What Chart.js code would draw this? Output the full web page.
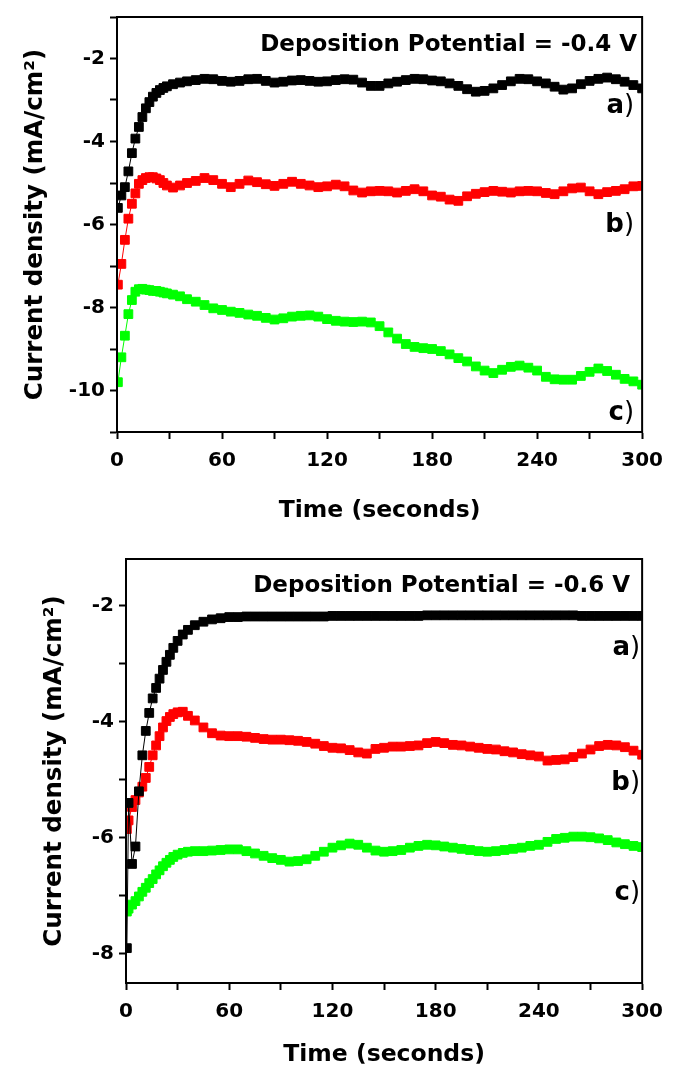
<!DOCTYPE html>
<html>
<head>
<meta charset="utf-8">
<script src="https://cdn.jsdelivr.net/npm/chart.js@4.4.1/dist/chart.umd.min.js"></script>
<style>
  html, body { margin: 0; padding: 0; background: #fff; }
  .painel { position: absolute; left: 0; width: 673px; height: 540px; }
</style>
</head>
<body>
<div class="painel" style="top:0"><canvas id="graficoTopo" width="673" height="540"></canvas></div>
<div class="painel" style="top:540px"><canvas id="graficoBaixo" width="673" height="540"></canvas></div>
<script>
const tempoTopo = [0.5, 2.5, 4.5, 6.5, 8.5, 10.5, 12.5, 14.5, 16.5, 18.5, 20.5, 22.5, 24.5, 26.5, 28.5,
  32, 36, 40, 45, 50, 55, 60, 65, 70, 75, 80, 85, 90, 95, 100, 105, 110, 115, 120, 125, 130, 135, 140,
  145, 150, 155, 160, 165, 170, 175, 180, 185, 190, 195, 200, 205, 210, 215, 220, 225, 230, 235, 240,
  245, 250, 255, 260, 265, 270, 275, 280, 285, 290, 295, 300];

const topoA = [-5.6, -5.3, -5.1, -4.72, -4.28, -3.93, -3.65, -3.41, -3.2, -3.05, -2.92, -2.83, -2.76, -2.71, -2.67,
  -2.62, -2.58, -2.55,
  -2.52, -2.49, -2.5, -2.54, -2.56, -2.54, -2.5, -2.49, -2.54, -2.58,
  -2.56, -2.53, -2.52, -2.54, -2.56, -2.55, -2.52, -2.5, -2.51, -2.58,
  -2.66, -2.66, -2.6, -2.56, -2.52, -2.49, -2.5, -2.53, -2.55, -2.6,
  -2.66, -2.74, -2.8, -2.78, -2.72, -2.64, -2.55, -2.49, -2.5, -2.55,
  -2.6, -2.68, -2.75, -2.72, -2.62, -2.54, -2.49, -2.46, -2.5, -2.56,
  -2.64, -2.72];

const topoB = [-7.45, -6.95, -6.37, -5.86, -5.5, -5.25, -5.02, -4.93, -4.88, -4.86, -4.86, -4.89, -4.93, -5.0, -5.06,
  -5.11, -5.06, -5.0,
  -4.95, -4.88, -4.93, -5.02, -5.1, -5.02, -4.94, -4.98, -5.03, -5.07,
  -5.02, -4.97, -5.02, -5.06, -5.1, -5.08, -5.04, -5.08, -5.18, -5.23,
  -5.2, -5.19, -5.2, -5.23, -5.19, -5.15, -5.2, -5.3, -5.33, -5.4,
  -5.43, -5.32, -5.26, -5.22, -5.19, -5.21, -5.23, -5.2, -5.19, -5.2,
  -5.24, -5.27, -5.2, -5.13, -5.11, -5.2, -5.27, -5.22, -5.19, -5.15,
  -5.08, -5.07];

const topoC = [-9.8, -9.2, -8.68, -8.16, -7.82, -7.62, -7.56, -7.55, -7.57, -7.58, -7.6, -7.6, -7.62, -7.64, -7.66,
  -7.69, -7.73, -7.8,
  -7.86, -7.94, -8.02, -8.06, -8.1, -8.13, -8.17, -8.2, -8.25, -8.29,
  -8.26, -8.22, -8.2, -8.19, -8.22, -8.28, -8.32, -8.34, -8.35, -8.34,
  -8.36, -8.45, -8.6, -8.75, -8.88, -8.95, -8.98, -9.0, -9.05, -9.13,
  -9.22, -9.3, -9.42, -9.52, -9.58, -9.5, -9.43, -9.4, -9.45, -9.52,
  -9.67, -9.73, -9.74, -9.74, -9.65, -9.55, -9.47, -9.53, -9.62, -9.72,
  -9.78, -9.86];

// tempos (s) do gráfico de baixo, -0.6 V
const tempoBaixo = [0.5, 1.5, 3.5, 5.5, 7.5, 9.5, 11.5, 13.5, 15.5, 17.5, 19.5, 21.5, 23.5, 25.5, 27.5,
  30, 33, 36, 40, 45, 50, 55, 60, 65, 70, 75, 80, 85, 90, 95, 100, 105, 110, 115, 120, 125, 130, 135, 140,
  145, 150, 155, 160, 165, 170, 175, 180, 185, 190, 195, 200, 205, 210, 215, 220, 225, 230, 235, 240,
  245, 250, 255, 260, 265, 270, 275, 280, 285, 290, 295, 300];

const baixoA = [-7.9, -5.4, -6.45, -6.15, -5.2, -4.58, -4.16, -3.85, -3.6, -3.42, -3.26, -3.11, -2.97, -2.85, -2.73,
  -2.61, -2.5, -2.42, -2.34,
  -2.28, -2.24, -2.22, -2.2, -2.2, -2.19, -2.19, -2.19, -2.19, -2.19,
  -2.19, -2.19, -2.19, -2.19, -2.19, -2.18, -2.18, -2.18, -2.18, -2.18,
  -2.18, -2.18, -2.18, -2.18, -2.18, -2.18, -2.17, -2.17, -2.17, -2.17,
  -2.17, -2.17, -2.17, -2.17, -2.17, -2.17, -2.17, -2.17, -2.17, -2.17,
  -2.17, -2.17, -2.17, -2.17, -2.18, -2.18, -2.18, -2.18, -2.18, -2.18,
  -2.18, -2.18];

const baixoB = [-5.85, -5.7, -5.47, -5.35, -5.22, -5.12, -4.97, -4.78, -4.58, -4.41, -4.25, -4.1, -3.99, -3.92, -3.87,
  -3.84, -3.83, -3.9, -3.98,
  -4.1, -4.2, -4.24, -4.25, -4.25, -4.26, -4.28, -4.3, -4.31, -4.31,
  -4.32, -4.33, -4.35, -4.38, -4.42, -4.45, -4.46, -4.49, -4.53, -4.55,
  -4.47, -4.45, -4.43, -4.43, -4.42, -4.41, -4.37, -4.35, -4.37, -4.4,
  -4.41, -4.43, -4.45, -4.47, -4.48, -4.51, -4.53, -4.56, -4.58, -4.6,
  -4.67, -4.66, -4.65, -4.61, -4.55, -4.48, -4.42, -4.4, -4.41, -4.44,
  -4.5, -4.57];

const baixoC = [-7.27, -7.22, -7.15, -7.09, -7.01, -6.93, -6.86, -6.78, -6.71, -6.63, -6.56, -6.49, -6.43, -6.38, -6.33,
  -6.29, -6.26, -6.24, -6.23,
  -6.23, -6.22, -6.21, -6.2, -6.2, -6.23, -6.27, -6.31, -6.35, -6.38,
  -6.41, -6.4, -6.37, -6.31, -6.24, -6.17, -6.13, -6.1, -6.12, -6.17,
  -6.22, -6.24, -6.23, -6.21, -6.17, -6.14, -6.12, -6.13, -6.15, -6.17,
  -6.19, -6.21, -6.23, -6.24, -6.23, -6.21, -6.19, -6.17, -6.14, -6.12,
  -6.07, -6.02, -6.0, -5.98, -5.98, -5.99, -6.01, -6.04, -6.08, -6.11,
  -6.14, -6.16];

const nomesCurvas = ["a", "b", "c"];
const coresCurvas = ["#000000", "#ff0000", "#00ff00"];

const fonte = "DejaVu Sans";

// moldura fechada em volta da área do gráfico + textos "a)", "b)", "c)" e o título interno
const rotulosPlugin = {
  id: "rotulos",
  afterDatasetsDraw(chart) {
    const { ctx, chartArea: area } = chart;
    const cfg = chart.options.plugins.rotulos;
    ctx.save();
    ctx.strokeStyle = "#000";
    ctx.lineWidth = 2;
    ctx.strokeRect(area.left, area.top, area.right - area.left, area.bottom - area.top);

    ctx.fillStyle = "#000";
    ctx.textBaseline = "alphabetic";
    ctx.textAlign = "right";
    ctx.font = `bold 23px "${fonte}"`;
    ctx.fillText(cfg.titulo, area.right - cfg.tituloDireita, cfg.tituloBase);

    cfg.letras.forEach((base, i) => {
      const xr = area.right - cfg.letraDireita;
      ctx.font = `26px "${fonte}"`;
      const larguraParen = ctx.measureText(")").width;
      ctx.fillText(")", xr, base);
      ctx.font = `bold 26px "${fonte}"`;
      ctx.fillText(nomesCurvas[i], xr - larguraParen, base);
    });
    ctx.restore();
  },
};

function montarGrafico(id, tempos, series, opcoes) {
  const datasets = series.map((valores, i) => ({
    label: nomesCurvas[i],
    data: tempos.map((t, j) => ({ x: t, y: valores[j] })),
    showLine: true,
    borderColor: coresCurvas[i],
    backgroundColor: coresCurvas[i],
    borderWidth: 1,
    pointStyle: "rect",
    pointRadius: 6.2,
    pointBorderWidth: 1,
    pointBorderColor: coresCurvas[i],
    pointBackgroundColor: coresCurvas[i],
  }));

  const grade = {
    display: true,
    drawOnChartArea: false,
    drawTicks: true,
    tickLength: 7,
    tickWidth: 2,
    tickColor: "#000",
  };

  return new Chart(document.getElementById(id), {
    type: "scatter",
    data: { datasets },
    options: {
      responsive: false,
      animation: false,
      layout: { padding: { left: 0, top: opcoes.topo, right: 23, bottom: 0 } },
      plugins: {
        legend: { display: false },
        tooltip: { enabled: false },
        rotulos: opcoes.rotulos,
      },
      scales: {
        x: {
          type: "linear",
          min: 0,
          max: 300,
          grid: grade,
          border: { display: true, color: "#000", width: 2 },
          ticks: {
            stepSize: 30,
            autoSkip: false,
            maxRotation: 0,
            padding: 10,
            color: "#000",
            font: { family: fonte, size: 20, weight: "bold" },
            callback: (v) => (v % 60 === 0 ? String(v) : ""),
          },
          title: {
            display: true,
            text: "Time (seconds)",
            color: "#000",
            font: { family: fonte, size: 23.5, weight: "bold" },
            padding: { top: 0, bottom: opcoes.tituloXBaixo },
          },
          afterFit: (s) => { s.height = opcoes.alturaX; },
        },
        y: {
          type: "linear",
          min: opcoes.yMin,
          max: opcoes.yMax,
          grid: grade,
          border: { display: true, color: "#000", width: 2 },
          ticks: {
            stepSize: 1,
            includeBounds: false,
            padding: 5,
            color: "#000",
            font: { family: fonte, size: 20, weight: "bold" },
            callback: (v) => (Math.round(v) % 2 === 0 ? String(v) : ""),
          },
          title: {
            display: true,
            text: "Current density (mA/cm²)",
            color: "#000",
            font: { family: fonte, size: 24.5, weight: "bold" },
            padding: { top: opcoes.tituloYTopo, bottom: 0 },
          },
          afterFit: (s) => { s.width = opcoes.larguraY; },
        },
      },
    },
    plugins: [rotulosPlugin],
  });
}

montarGrafico("graficoTopo", tempoTopo, [topoA, topoB, topoC], {
  topo: 9,
  alturaX: 108,
  larguraY: 117,
  yMin: -11,
  yMax: -1,
  tituloXBaixo: 15,
  tituloYTopo: 21,
  rotulos: {
    titulo: "Deposition Potential = -0.4 V",
    tituloBase: 51,
    tituloDireita: 5,
    letraDireita: 8,
    letras: [113, 232, 420],
  },
});

montarGrafico("graficoBaixo", tempoBaixo, [baixoA, baixoB, baixoC], {
  topo: 19,
  alturaX: 97,
  larguraY: 126,
  yMin: -8.5,
  yMax: -1.2,
  tituloXBaixo: 11,
  tituloYTopo: 40,
  rotulos: {
    titulo: "Deposition Potential = -0.6 V",
    tituloBase: 52,
    tituloDireita: 12,
    letraDireita: 2,
    letras: [115, 250, 360],
  },
});
</script>
</body>
</html>
